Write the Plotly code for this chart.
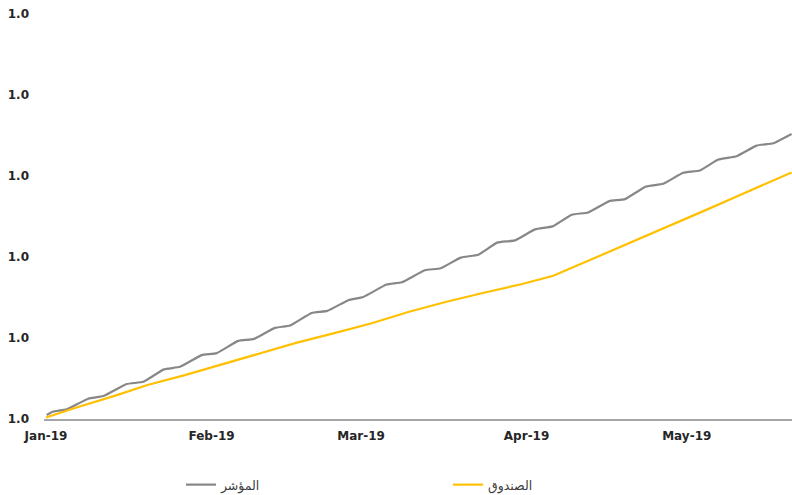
import plotly.graph_objects as go

# Index (gray) series
index_dates = [
    "2019-01-01 03:00", "2019-01-02 06:00", "2019-01-04 21:00", "2019-01-08 22:00",
    "2019-01-11 18:00", "2019-01-16 03:00", "2019-01-19 05:00", "2019-01-23 02:00",
    "2019-01-26 02:00", "2019-01-30 04:00", "2019-02-01 23:00", "2019-02-06 00:00",
    "2019-02-08 23:00", "2019-02-12 21:00", "2019-02-15 17:00", "2019-02-19 18:00",
    "2019-02-22 16:00", "2019-02-26 15:00", "2019-03-01 10:00", "2019-03-05 19:00",
    "2019-03-08 15:00", "2019-03-12 23:00", "2019-03-15 22:00", "2019-03-19 16:00",
    "2019-03-22 23:00", "2019-03-26 12:00", "2019-03-29 20:00", "2019-04-02 14:00",
    "2019-04-05 21:00", "2019-04-09 11:00", "2019-04-12 13:00", "2019-04-16 12:00",
    "2019-04-19 10:00", "2019-04-23 09:00", "2019-04-26 14:00", "2019-04-30 08:00",
    "2019-05-03 11:00", "2019-05-06 22:00", "2019-05-10 08:00", "2019-05-14 02:00",
    "2019-05-17 05:00", "2019-05-20 15:00",
]
index_values = [
    1.00049, 1.00090, 1.00119, 1.00250, 1.00283, 1.00431, 1.00459, 1.00612,
    1.00644, 1.00788, 1.00813, 1.00964, 1.00989, 1.01124, 1.01154, 1.01309,
    1.01334, 1.01466, 1.01506, 1.01659, 1.01687, 1.01835, 1.01860, 1.01991,
    1.02028, 1.02176, 1.02204, 1.02340, 1.02377, 1.02521, 1.02549, 1.02688,
    1.02713, 1.02869, 1.02903, 1.03038, 1.03067, 1.03202, 1.03243, 1.03374,
    1.03403, 1.03518,
]

# Fund (yellow) series
fund_dates = [
    "2019-01-01", "2019-01-07", "2019-01-14", "2019-01-20", "2019-01-27",
    "2019-02-03", "2019-02-10", "2019-02-17", "2019-02-24", "2019-03-03",
    "2019-03-10", "2019-03-17", "2019-03-24", "2019-03-31", "2019-04-06",
    "2019-04-13", "2019-04-20", "2019-04-27", "2019-05-04", "2019-05-11",
    "2019-05-20 15:00",
]
fund_values = [
    1.00018, 1.00148, 1.00289, 1.00419, 1.00542,
    1.00677, 1.00813, 1.00942, 1.01059, 1.01182,
    1.01324, 1.01447, 1.01558, 1.01663, 1.01767,
    1.01964, 1.02161, 1.02365, 1.02562, 1.02765,
    1.03042,
]

x_tickvals = ["2019-01-01", "2019-02-01", "2019-03-01", "2019-04-01", "2019-05-01"]
x_ticktext = ["Jan-19", "Feb-19", "Mar-19", "Apr-19", "May-19"]
y_tickvals = [1.00, 1.01, 1.02, 1.03, 1.04, 1.05]
y_ticktext = ["1.0", "1.0", "1.0", "1.0", "1.0", "1.0"]

index_name = "المؤشر"
fund_name = "الصندوق"

fig = go.Figure()
fig.add_trace(go.Scatter(
    x=index_dates, y=index_values, name=index_name, mode="lines",
    line=dict(color="#878787", width=2.2, shape="spline", smoothing=0.4),
))
fig.add_trace(go.Scatter(
    x=fund_dates, y=fund_values, name=fund_name, mode="lines",
    line=dict(color="#FFC000", width=2.2),
))

tick_font = dict(family="DejaVu Sans", size=12, color="#262626", weight="bold")

fig.update_layout(
    width=792, height=495,
    margin=dict(l=44, r=0, t=13, b=76, autoexpand=False),
    paper_bgcolor="white", plot_bgcolor="white",
    showlegend=True,
    legend=dict(
        orientation="h", xref="container", yref="container",
        x=0.2285, xanchor="left", y=0.0202, yanchor="middle",
        entrywidth=222, entrywidthmode="pixels",
        font=dict(family="DejaVu Sans", size=12.5, color="#404040"),
        bgcolor="rgba(0,0,0,0)",
    ),
    xaxis=dict(
        type="date",
        range=["2018-12-31 15:00", "2019-05-20 17:00"],
        tickvals=x_tickvals, ticktext=x_ticktext,
        showgrid=False, zeroline=False,
        showline=True, linecolor="#A6A6A6", linewidth=1.5,
        ticks="", tickfont=tick_font, ticklabelstandoff=5,
        automargin=False, ticklabeloverflow="allow",
    ),
    yaxis=dict(
        range=[1.0, 1.0501],
        tickvals=y_tickvals, ticktext=y_ticktext,
        showgrid=False, zeroline=False, showline=False,
        ticks="", tickfont=tick_font, ticklabelstandoff=14,
        automargin=False, ticklabeloverflow="allow",
    ),
)

fig.write_html(
    "out.html",
    config={"displayModeBar": False},
    post_script="document.body.style.margin='0';document.body.style.overflow='hidden';",
)
